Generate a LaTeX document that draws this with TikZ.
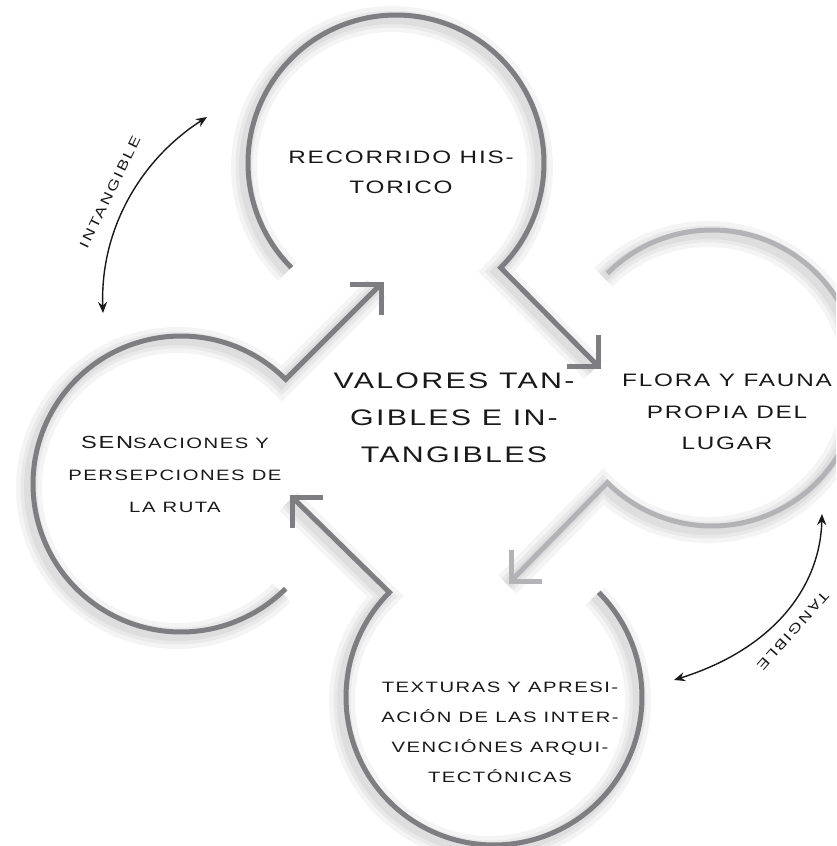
\documentclass[tikz,border=0pt]{standalone}
\usepackage{fontspec}
\setmainfont{Liberation Sans}[FakeStretch=1.35,LetterSpace=10]
\newfontfamily\rotfont{Liberation Sans}[FakeStretch=1.3,LetterSpace=16]
\usetikzlibrary{arrows.meta}
\definecolor{ringdark}{RGB}{125,125,130}
\definecolor{ringlight}{RGB}{178,178,183}
\definecolor{txt}{RGB}{25,25,25}
\tikzset{
  ring/.style={line width=5pt, line join=miter},
  ringshadow/.style={line width=#1, black, opacity=0.042, xshift=-4pt, yshift=-4pt},
  lab/.style={align=center, text=txt, inner sep=0pt},
  dbl/.style={line width=1.4pt, txt, {Stealth[length=11pt,width=9pt]}-{Stealth[length=11pt,width=9pt]}},
  arm/.style={line width=5pt, line join=miter, line cap=butt},
}
\newcommand\ringdraw[7]{%
  \foreach \w in {26,17,10}{%
    \draw[ringshadow=\w pt] plot[domain=#3:#4,samples=140] ({#1+148*cos(\x)},{#2+148*sin(\x)}) -- ++(#5,#6);}
  \draw[ring,#7] plot[domain=#3:#4,samples=140] ({#1+148*cos(\x)},{#2+148*sin(\x)}) -- ++(#5,#6);
}
\begin{document}
\begin{tikzpicture}[x=1pt,y=-1pt]
\useasboundingbox (0,0) rectangle (836,846);
\fill[white] (0,0) rectangle (836,846);
\clip (0,0) rectangle (836,846);

% rings (centre x, centre y, start angle, end angle, shaft dx, shaft dy, colour)
\ringdraw{396}{163}{135}{405}{97}{98}{ringdark}
\ringdraw{712}{378}{225}{495}{-96}{98}{ringlight}
\ringdraw{494}{697}{315}{585}{-97}{-95}{ringdark}
\ringdraw{181}{484}{45}{315}{95}{-95}{ringdark}

% arrow heads
\coordinate (tipA) at (598,366);
\coordinate (tipB) at (511,581);
\coordinate (tipC) at (292,497);
\coordinate (tipD) at (381,284);
\draw[arm,ringdark] ([xshift=-31pt]tipA) -- (tipA) -- ([yshift=31pt]tipA);
\draw[arm,ringlight] ([yshift=31pt]tipB) -- (tipB) -- ([xshift=31pt]tipB);
\draw[arm,ringdark] ([xshift=31pt]tipC) -- (tipC) -- ([yshift=-31pt]tipC);
\draw[arm,ringdark] ([xshift=-31pt]tipD) -- (tipD) -- ([yshift=-31pt]tipD);

% texts
\node[lab,font=\fontsize{18}{30}\selectfont] (top) at (401,172) {RECORRIDO HIS-\\TORICO};
\node[lab,font=\fontsize{18}{31.5}\selectfont] (right) at (727,412) {FLORA Y FAUNA\\PROPIA DEL\\LUGAR};
\node[lab,font=\fontsize{22.5}{37}\selectfont] (centre) at (454,418) {VALORES TAN-\\GIBLES E IN-\\TANGIBLES};
\node[lab,font=\fontsize{15}{30}\selectfont] (bottom) at (500,732) {TEXTURAS Y APRESI-\\ACIÓN DE LAS INTER-\\VENCIÓNES ARQUI-\\TECTÓNICAS};
\node[lab,font=\fontsize{15}{32}\selectfont] (left) at (175,474) {{\fontsize{17.5}{32}\selectfont SEN}SACIONES Y\\PERSEPCIONES DE\\LA RUTA};

% curved double arrows
\coordinate (i1) at (103,313);
\coordinate (i2) at (207,117);
\draw[dbl] (i1) .. controls (100,230) and (140,160) .. (i2);
\node[lab,font=\rotfont\fontsize{13.5}{16}\selectfont,rotate=64] (intang) at (110,192) {INTANGIBLE};

\coordinate (t1) at (822,514);
\coordinate (t2) at (674,680);
\draw[dbl] (t1) .. controls (820,590) and (770,650) .. (t2);
\node[lab,font=\rotfont\fontsize{13.5}{16}\selectfont,rotate=-131.5] (tang) at (793,631) {TANGIBLE};
\end{tikzpicture}
\end{document}
